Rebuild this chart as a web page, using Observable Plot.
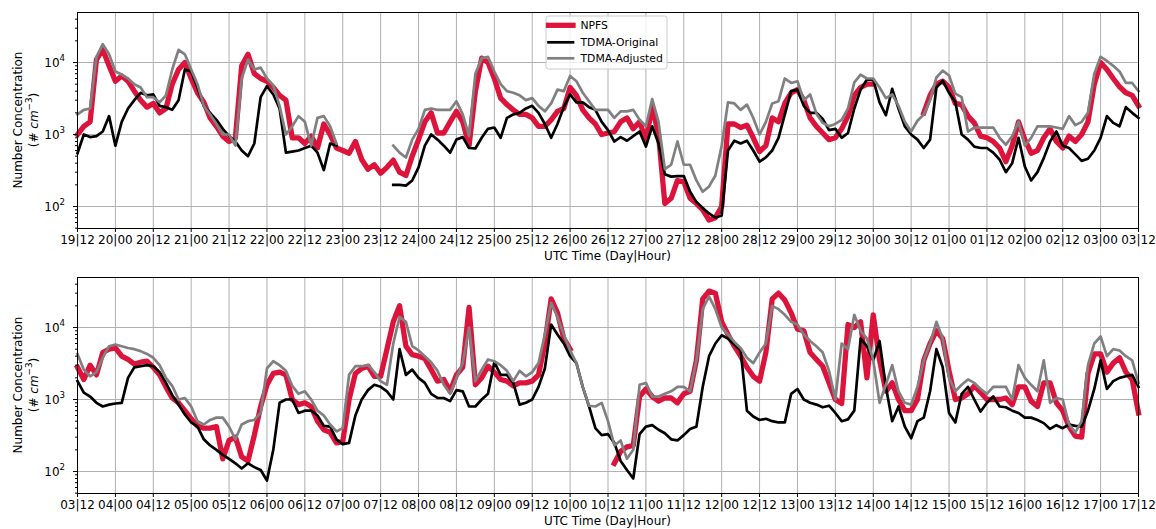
<!DOCTYPE html>
<html><head><meta charset="utf-8">
<script src="https://cdn.jsdelivr.net/npm/d3@7"></script>
<script src="https://cdn.jsdelivr.net/npm/@observablehq/plot@0.6"></script>
<style>
html,body{margin:0;padding:0;background:#fff;overflow:hidden;}
#chart{width:1156px;height:529px;}
#chart svg{display:block;}
</style></head><body><div id="chart"></div>
<script>
// ---- data (2-hour resolution, hours since panel start) ----
const stepHours = 2;
const topTickLabels = ["19|12","20|00","20|12","21|00","21|12","22|00","22|12","23|00","23|12","24|00","24|12","25|00","25|12","26|00","26|12","27|00","27|12","28|00","28|12","29|00","29|12","30|00","30|12","01|00","01|12","02|00","02|12","03|00","03|12"];
const bottomTickLabels = ["03|12","04|00","04|12","05|00","05|12","06|00","06|12","07|00","07|12","08|00","08|12","09|00","09|12","10|00","10|12","11|00","11|12","12|00","12|12","13|00","13|12","14|00","14|12","15|00","15|12","16|00","16|12","17|00","17|12"];
const yTickValues = [100, 1000, 10000];
const yTickBase = "10";
const yTickExponents = ["2", "3", "4"];
const yMinorTicks = [50,60,70,80,90,200,300,400,500,600,700,800,900,2000,3000,4000,5000,6000,7000,8000,9000,20000,30000,40000];
const seriesNames = ["NPFS", "TDMA-Original", "TDMA-Adjusted"];

const topNPFS = [
  1000,1300,1500,11000,15000,9000,5500,6500,5500,4000,3000,2400,
  2700,2000,2300,5000,8000,10000,6000,3800,2800,1700,1300,950,
  800,900,9000,13000,7000,6000,5500,4500,3500,3000,900,900,
  750,950,650,1400,1000,650,600,550,800,450,330,380,
  290,350,440,300,270,500,850,1500,2000,1050,1050,1500,
  2100,1500,700,4000,11500,10000,6000,3200,2600,2200,1900,1900,
  1700,1300,1300,1600,2100,2300,4500,3500,2200,1700,1400,1000,
  1050,1100,1500,1700,1200,1500,850,2400,1000,110,130,230,
  220,130,110,90,65,70,100,1400,1400,1250,1350,900,
  580,700,1700,1500,2700,3800,4200,3000,1700,1300,1050,850,
  900,1200,1800,3500,4500,5000,5000,null,null,null,null,null,
  null,null,2000,3500,5000,5500,4500,2700,2600,1800,1450,950,
  900,800,650,420,700,1500,850,550,600,900,1200,800,
  650,950,800,1000,1500,5000,10000,8000,6000,4600,3800,3500,
  2500];
const topOriginal = [
  550,1000,920,950,1100,1800,700,1500,2300,3000,3800,3500,
  3600,2500,2400,2200,3000,8000,7500,4500,2500,2000,1600,1200,
  950,800,600,500,750,3300,4700,3600,2300,560,580,600,
  650,700,560,320,750,700,null,null,null,null,null,null,
  null,null,200,200,195,230,350,700,1000,850,700,560,
  850,920,650,640,900,1200,1250,900,1700,1900,2000,2300,
  2500,2000,1400,900,1400,2400,3600,2800,2800,2400,2200,1500,
  1150,800,920,820,950,1100,680,1300,750,280,260,265,
  265,160,115,95,80,70,75,600,820,750,820,600,
  420,480,600,900,1900,4000,4200,2500,2000,2000,1650,1150,
  1200,900,1050,2300,4200,5800,5800,2800,1850,4300,2300,1300,
  1000,850,650,850,4500,5600,3800,2800,1000,850,680,650,
  650,560,450,300,400,900,360,230,300,470,800,1100,
  700,650,530,430,460,600,900,1800,1450,1300,2400,2000,
  1700];
const topAdjusted = [
  1900,2200,2300,12000,18000,13000,7500,6800,6000,5000,4500,3300,
  3300,2800,3500,8000,15000,13000,8000,5000,2500,1900,1400,1000,
  1000,700,6000,11000,8000,8500,6000,4800,2500,1000,1300,1800,
  1500,700,1700,1800,1300,750,null,null,null,null,null,null,
  null,null,700,560,480,850,1200,2200,2300,2200,2200,2200,
  2900,1900,950,7000,11500,12000,7500,5000,4000,3800,3500,3000,
  3200,2500,2100,2700,4200,4000,6500,5500,3800,2900,2200,2200,
  2200,1700,2100,2100,2200,1600,1300,3100,1500,330,380,800,
  380,380,230,160,190,270,700,2800,2700,2200,2600,1700,
  1000,1500,2700,2900,6000,5200,5500,3000,3600,1950,1450,1300,
  1400,1600,2300,5300,6800,6000,6000,4500,3200,3600,2500,1500,
  1100,1550,1900,3000,6200,7700,6600,3700,3300,1100,1250,1250,
  1250,1250,900,720,950,1500,700,900,1300,1300,1300,1250,
  1200,1800,1350,1500,2000,7000,12000,10500,9000,7500,5200,5200,
  4000];

const bottomNPFS = [
  2800,1900,3000,2200,4500,5000,5200,4000,3600,3100,3300,3400,
  2800,2200,1500,1050,900,700,540,430,400,400,420,150,
  270,300,160,140,320,800,1600,2300,2400,2200,1000,850,
  900,800,500,380,350,250,260,1000,2300,2700,2900,2100,
  2100,5000,12000,20000,5500,4200,4000,3700,2600,1800,1900,1300,
  2200,2800,19000,1600,2000,2900,2400,1900,1800,1550,1700,1700,
  1800,2200,6000,25000,16000,7000,5000,null,null,null,null,null,
  null,130,190,220,230,1100,1400,1100,950,1050,1050,900,
  1200,1300,3500,25000,32000,30000,12000,8000,5500,4000,2800,2100,
  1800,4500,25000,30000,24000,16000,9500,9000,4500,3600,2900,1700,
  1000,880,11000,10000,12000,2000,15000,3500,1300,1700,1000,700,
  700,1000,3500,6000,9000,7000,2500,1000,1050,1200,1550,1250,
  1000,1000,1000,1050,850,1500,1500,950,800,1700,1700,900,
  700,420,310,300,2300,4300,4300,2400,3200,3800,2400,1900,
  650];
const bottomOriginal = [
  1800,1250,1100,900,800,850,880,900,2000,2800,2900,3000,
  2900,2400,1700,1150,850,620,480,420,280,230,200,170,
  150,130,110,130,115,105,75,200,900,1000,1000,650,
  700,700,600,430,420,280,240,250,600,1000,1350,1600,
  1500,1300,1000,5000,2200,2600,2000,1700,1200,1050,1050,950,
  1350,1300,800,800,1000,1200,3300,2200,2200,1700,850,900,
  1000,1500,2700,11000,8000,6000,4000,3200,1500,800,400,320,
  330,250,140,105,80,330,420,440,380,340,280,270,
  320,390,420,1500,4000,6000,7800,7000,5800,4800,700,580,
  520,540,500,480,480,1200,1400,1000,900,850,780,820,
  650,500,530,700,7000,5500,3500,6500,1500,500,800,420,
  290,500,560,1300,5000,2800,650,480,1200,1500,1000,680,
  900,1100,800,780,700,650,560,560,520,470,390,440,
  400,450,430,420,700,1400,3500,1400,1800,2000,2100,2200,
  1500];
const bottomAdjusted = [
  4300,2600,2100,2400,3800,5500,5800,5500,5200,5000,4700,4300,
  3800,3000,2000,1550,1000,1050,800,500,450,520,560,560,
  420,280,450,500,520,650,2700,3400,3000,2500,1550,1200,
  1300,1000,700,600,450,360,400,2200,2900,2900,3000,2400,
  1800,1600,6000,14000,12000,5500,4800,4000,3300,2500,1600,1200,
  2000,3200,10000,1800,2600,3600,3400,3000,2500,1800,2500,2100,
  2400,3200,8000,22000,14000,8000,4800,3200,1500,820,800,900,
  500,230,270,150,200,1600,1700,1100,1100,1200,1300,1500,
  1500,1300,3500,18000,27000,18000,10000,8000,6300,5200,3800,3200,
  4500,6000,20000,18000,15000,12000,11000,8000,6500,5500,4500,2500,
  1000,6000,5000,15000,9000,7000,3500,900,1600,3000,1300,900,
  850,1500,3500,6000,12000,7000,2000,1300,1600,1900,1700,1400,
  1200,1500,1500,1500,1000,3000,2000,1600,1300,3500,900,1050,
  1000,450,350,500,3000,6000,7500,4000,5000,4800,4000,3500,
  1700];

// ---- styling ----
const W = 1156;
const FONT = "DejaVu Sans";
const FS = 12;
const colors = {"NPFS": "#dc143c", "TDMA-Original": "#000000", "TDMA-Adjusted": "#808080"};
const widths = {"NPFS": 5.3, "TDMA-Original": 2.7, "TDMA-Adjusted": 2.7};
const xTicks = d3.range(0, 337, 12);

function makeRows(a, b, c) {
  const rows = [];
  [a, b, c].forEach((arr, s) => arr.forEach((v, i) => rows.push({t: i * stepHours, v, series: seriesNames[s]})));
  return rows;
}

function panel(npfs, orig, adj, tickLabels, height, marginBottom, withLegend) {
  const rows = makeRows(npfs, orig, adj);
  const lines = seriesNames.map(name => Plot.line(rows.filter(r => r.series === name), {
    x: "t", y: "v", stroke: colors[name], strokeWidth: widths[name],
    strokeLinejoin: "round", strokeLinecap: "square"
  }));
  const svg = Plot.plot({
    width: W, height,
    marginLeft: 77, marginRight: 18, marginTop: 12, marginBottom,
    style: {fontFamily: FONT, fontSize: FS + "px", color: "#000", background: "#fff", overflow: "visible"},
    x: {type: "linear", domain: [0, 336], axis: null},
    y: {type: "log", domain: [49.5, 49500], axis: null},
    marks: [
      Plot.gridX(xTicks, {stroke: "#b0b0b0", strokeOpacity: 1, strokeWidth: 1}),
      Plot.gridY(yTickValues, {stroke: "#b0b0b0", strokeOpacity: 1, strokeWidth: 1}),
      ...lines,
      Plot.axisX(xTicks, {tickSize: 4, tickPadding: 3, tickFormat: d => tickLabels[Math.round(d / 12)], label: null, fontSize: FS, stroke: "#000"}),
      Plot.axisY(yTickValues, {tickSize: 4, tickFormat: () => "", label: null}),
      Plot.axisY(yMinorTicks, {tickSize: 2, tickFormat: () => "", label: null}),
      Plot.frame({stroke: "#000", strokeWidth: 1})
    ]
  });
  const s = d3.select(svg);
  const yScale = svg.scale("y");
  // y tick labels with superscript exponents
  yTickValues.forEach((v, i) => {
    const tt = s.append("text")
      .attr("x", 65).attr("y", yScale.apply(v) + 1)
      .attr("text-anchor", "end").attr("dominant-baseline", "central")
      .attr("font-family", FONT).attr("font-size", FS).attr("fill", "#000");
    tt.append("tspan").text(yTickBase);
    tt.append("tspan").attr("font-size", 8.6).attr("dy", -4.6).text(yTickExponents[i]);
  });
  // y label (two lines)
  const cy = 12 + (height - marginBottom - 12) / 2;
  s.append("text")
    .attr("transform", `translate(17.5,${cy}) rotate(-90)`)
    .attr("text-anchor", "middle").attr("dominant-baseline", "central")
    .attr("font-family", FONT).attr("font-size", FS).attr("fill", "#000")
    .text("Number Concentration");
  const t2 = s.append("text")
    .attr("transform", `translate(33.5,${cy}) rotate(-90)`)
    .attr("text-anchor", "middle").attr("dominant-baseline", "central")
    .attr("font-family", FONT).attr("font-size", FS).attr("fill", "#000");
  t2.append("tspan").text("(# ");
  t2.append("tspan").attr("font-style", "italic").text("cm");
  t2.append("tspan").attr("font-size", 8.8).attr("dy", -4.6).text("\u22123");
  t2.append("tspan").attr("dy", 4.6).text(")");
  // x label
  s.append("text")
    .attr("x", (77 + (W - 18)) / 2).attr("y", height - marginBottom + 28)
    .attr("text-anchor", "middle").attr("dominant-baseline", "central")
    .attr("font-family", FONT).attr("font-size", FS).attr("fill", "#000")
    .text("UTC Time (Day|Hour)");
  if (withLegend) {
    const g = s.append("g");
    g.append("rect").attr("x", 546).attr("y", 16).attr("width", 121).attr("height", 53)
      .attr("rx", 2.5).attr("fill", "#fff").attr("fill-opacity", 0.8)
      .attr("stroke", "#cccccc").attr("stroke-width", 1);
    const ys = [25.3, 42.3, 58.3];
    seriesNames.forEach((name, i) => {
      g.append("line").attr("x1", 548.5).attr("x2", 573).attr("y1", ys[i]).attr("y2", ys[i])
        .attr("stroke", colors[name]).attr("stroke-width", widths[name]).attr("stroke-linecap", "square");
      g.append("text").attr("x", 580.5).attr("y", ys[i]).attr("dominant-baseline", "central")
        .attr("text-anchor", "start")
        .attr("font-family", FONT).attr("font-size", 10.8).attr("fill", "#000").text(name);
    });
  }
  return svg;
}

const root = document.getElementById("chart");
root.append(panel(topNPFS, topOriginal, topAdjusted, topTickLabels, 265, 37, true));
root.append(panel(bottomNPFS, bottomOriginal, bottomAdjusted, bottomTickLabels, 264, 36, false));
</script>
</body></html>
